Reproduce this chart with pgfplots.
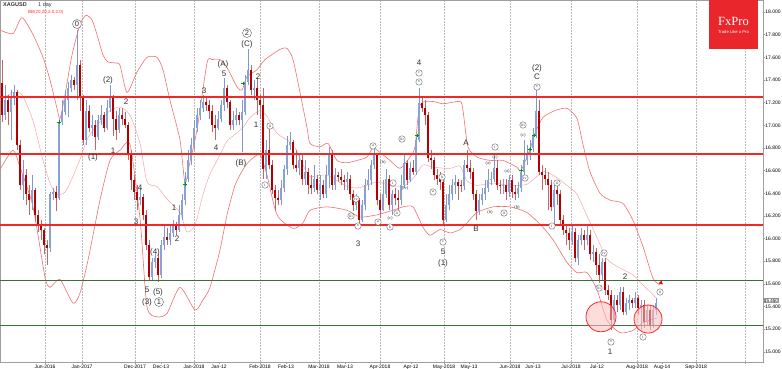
\documentclass[border=0pt]{standalone}
\usepackage{fontspec}
\setmainfont{Liberation Sans}
\newfontfamily\serif{Liberation Serif}
\usepackage{pgfplots}
\pgfplotsset{compat=1.18}
\usepackage{pgfplotstable}
\definecolor{upbody}{HTML}{86A2D6}
\definecolor{wickup}{HTML}{7F99CC}
\definecolor{dnred}{HTML}{B40000}
\definecolor{wickdn}{HTML}{C06868}
\definecolor{band}{HTML}{F07070}
\definecolor{midband}{HTML}{F4A0A0}
\definecolor{hred}{HTML}{F02828}
\definecolor{hgreen}{HTML}{3A6E3A}
\definecolor{fxred}{HTML}{E8262B}
\definecolor{lab}{HTML}{303030}

\pgfplotstableread{
x o h l c
2 17.37 17.58 17.03 17.09
5 17.09 17.36 17.05 17.22
8 17.22 17.27 17.00 17.12
11 17.12 17.31 16.87 17.24
14 17.24 17.36 17.18 17.29
17 17.29 17.31 16.78 16.83
20 16.83 16.87 16.43 16.47
23 16.47 16.69 16.34 16.56
26 16.56 16.61 16.30 16.39
29 16.39 16.47 16.21 16.34
32 16.34 16.56 16.25 16.43
35 16.43 16.45 16.15 16.21
38 16.21 16.25 16.06 16.12
41 16.12 16.16 15.99 16.08
44 16.08 16.09 15.86 15.94
47 15.94 15.99 15.77 15.92
50 15.92 16.41 15.88 16.39
53 16.39 16.45 16.34 16.41
56 16.41 16.46 16.24 16.36
59 16.36 17.06 16.34 17.03
62 17.03 17.22 17.00 17.12
65 17.12 17.31 17.09 17.22
68 17.22 17.38 17.07 17.33
71 17.33 17.44 17.29 17.40
74 17.40 17.43 17.31 17.36
77 17.36 17.84 17.22 17.53
80 17.53 17.58 17.13 17.25
83 17.25 17.27 16.83 16.87
86 16.87 17.22 16.83 17.13
89 17.13 17.18 16.94 16.98
92 16.98 17.09 16.91 17.00
95 17.00 17.05 16.78 16.90
98 16.90 17.09 16.87 17.05
101 17.05 17.18 17.00 17.09
104 17.09 17.12 16.94 16.98
107 16.98 17.22 16.96 17.15
110 17.15 17.36 17.12 17.25
113 17.25 17.27 16.91 17.06
116 17.06 17.13 16.87 16.96
119 16.96 17.15 16.93 17.09
122 17.09 17.15 17.00 17.06
125 17.06 17.12 16.98 17.00
128 17.00 17.03 16.69 16.74
131 16.74 16.78 16.43 16.52
134 16.52 16.56 16.34 16.41
137 16.41 16.47 16.25 16.34
140 16.34 16.45 16.30 16.37
143 16.37 16.39 16.16 16.21
146 16.21 16.25 15.90 15.94
149 15.94 15.99 15.63 15.66
152 15.66 15.83 15.63 15.79
155 15.79 15.86 15.74 15.83
158 15.83 15.86 15.62 15.68
161 15.68 15.99 15.65 15.94
164 15.94 16.12 15.90 16.01
167 16.01 16.09 15.94 15.99
170 15.99 16.12 15.94 16.05
173 16.05 16.16 16.01 16.12
176 16.12 16.15 16.03 16.08
179 16.08 16.30 16.06 16.21
182 16.21 16.39 16.16 16.34
185 16.34 16.59 16.30 16.53
188 16.53 16.78 16.50 16.69
191 16.69 16.89 16.65 16.83
194 16.83 17.05 16.78 16.98
197 16.98 17.15 16.94 17.09
200 17.09 17.22 17.05 17.15
203 17.15 17.27 17.12 17.21
206 17.21 17.25 17.13 17.18
209 17.18 17.22 17.06 17.13
212 17.13 17.18 16.94 17.00
215 17.00 17.09 16.87 16.98
218 16.98 17.13 16.96 17.06
221 17.06 17.22 17.03 17.18
224 17.18 17.42 17.13 17.33
227 17.33 17.36 17.15 17.21
230 17.21 17.22 16.96 17.00
233 17.00 17.13 16.96 17.05
236 17.05 17.15 17.00 17.09
239 17.09 17.12 17.00 17.05
242 17.05 17.22 16.76 17.12
245 17.12 17.44 17.09 17.38
248 17.38 17.67 17.36 17.49
251 17.49 17.53 17.27 17.31
254 17.31 17.40 17.22 17.33
257 17.33 17.42 17.09 17.22
260 17.22 17.27 17.06 17.18
263 17.18 17.33 16.53 16.61
266 16.61 16.87 16.53 16.78
269 16.78 16.98 16.61 16.65
272 16.65 16.69 16.39 16.43
275 16.43 16.47 16.25 16.36
278 16.36 16.43 16.30 16.34
281 16.34 16.52 16.30 16.45
284 16.45 16.65 16.41 16.61
287 16.61 16.91 16.56 16.83
290 16.83 16.94 16.78 16.85
293 16.85 16.87 16.61 16.65
296 16.65 16.78 16.59 16.62
299 16.62 16.74 16.56 16.69
302 16.69 16.74 16.47 16.53
305 16.53 16.69 16.47 16.59
308 16.59 16.62 16.39 16.47
311 16.47 16.56 16.39 16.45
314 16.45 16.65 16.41 16.53
317 16.53 16.56 16.39 16.43
320 16.43 16.56 16.34 16.47
323 16.47 16.52 16.36 16.39
326 16.39 16.65 16.36 16.56
329 16.56 16.81 16.45 16.74
332 16.74 16.78 16.43 16.47
335 16.47 16.62 16.43 16.56
338 16.56 16.59 16.50 16.54
341 16.54 16.61 16.47 16.52
344 16.52 16.56 16.43 16.50
347 16.50 16.59 16.43 16.53
350 16.53 16.56 16.34 16.39
353 16.39 16.43 16.24 16.30
356 16.30 16.39 16.25 16.34
359 16.34 16.36 16.14 16.16
362 16.16 16.34 16.15 16.30
365 16.30 16.53 16.25 16.47
368 16.47 16.61 16.43 16.52
371 16.52 16.69 16.47 16.65
374 16.65 16.81 16.61 16.74
377 16.74 16.76 16.30 16.34
380 16.34 16.39 16.18 16.25
383 16.25 16.52 16.24 16.39
386 16.39 16.61 16.36 16.53
389 16.53 16.56 16.25 16.30
392 16.30 16.43 16.21 16.39
395 16.39 16.45 16.30 16.36
398 16.36 16.43 16.25 16.34
401 16.34 16.56 16.30 16.47
404 16.47 16.74 16.45 16.67
407 16.67 16.69 16.47 16.52
410 16.52 16.68 16.50 16.62
413 16.62 16.69 16.56 16.59
416 16.59 16.91 16.56 16.87
419 16.87 17.33 16.85 17.20
422 17.20 17.24 17.12 17.15
425 17.15 17.22 17.00 17.09
428 17.09 17.12 16.68 16.71
431 16.71 16.78 16.61 16.69
434 16.69 16.72 16.52 16.56
437 16.56 16.61 16.47 16.53
440 16.53 16.59 16.43 16.50
443 16.50 16.52 16.12 16.16
446 16.16 16.39 16.15 16.30
449 16.30 16.47 16.25 16.39
452 16.39 16.53 16.34 16.47
455 16.47 16.56 16.39 16.50
458 16.50 16.53 16.34 16.46
461 16.47 16.52 16.41 16.46
464 16.46 16.69 16.43 16.65
467 16.65 16.78 16.59 16.62
470 16.62 16.69 16.53 16.59
473 16.59 16.62 16.34 16.39
476 16.39 16.43 16.16 16.24
479 16.24 16.39 16.21 16.34
482 16.34 16.45 16.30 16.39
485 16.39 16.52 16.34 16.45
488 16.45 16.61 16.41 16.52
491 16.52 16.59 16.47 16.53
494 16.53 16.74 16.50 16.62
497 16.62 16.69 16.43 16.47
500 16.47 16.52 16.39 16.46
503 16.46 16.53 16.39 16.47
506 16.47 16.53 16.34 16.41
509 16.41 16.56 16.37 16.52
512 16.52 16.56 16.36 16.41
515 16.41 16.47 16.34 16.39
518 16.39 16.50 16.36 16.45
521 16.45 16.65 16.41 16.59
524 16.59 16.87 16.53 16.69
527 16.69 16.83 16.65 16.74
530 16.74 16.87 16.69 16.80
533 16.80 16.98 16.76 16.91
536 16.91 17.31 16.89 17.13
539 17.13 17.22 16.56 16.59
542 16.59 16.65 16.43 16.56
545 16.56 16.62 16.47 16.53
548 16.53 16.59 16.25 16.47
551 16.47 16.52 16.24 16.28
554 16.28 16.47 16.12 16.43
557 16.43 16.47 16.30 16.39
560 16.39 16.43 16.12 16.16
563 16.16 16.21 16.03 16.08
566 16.08 16.12 15.94 16.05
569 16.05 16.09 15.90 15.99
572 15.99 16.12 15.94 16.06
575 16.06 16.09 15.79 15.83
578 15.83 16.03 15.77 15.99
581 15.99 16.09 15.94 16.03
584 16.03 16.08 15.90 15.99
587 15.99 16.12 15.94 16.03
590 16.03 16.08 15.81 15.86
593 15.86 15.94 15.79 15.88
596 15.88 15.92 15.68 15.77
599 15.77 15.86 15.61 15.68
602 15.68 15.83 15.63 15.79
605 15.79 15.83 15.50 15.55
608 15.55 15.59 15.46 15.50
611 15.50 15.55 15.19 15.28
614 15.28 15.50 15.26 15.46
617 15.46 15.50 15.35 15.41
620 15.41 15.57 15.37 15.53
623 15.53 15.57 15.33 15.35
626 15.35 15.48 15.33 15.43
629 15.43 15.50 15.37 15.46
632 15.46 15.48 15.39 15.43
635 15.43 15.53 15.39 15.48
638 15.48 15.50 15.33 15.39
641 15.39 15.46 15.19 15.41
644 15.41 15.46 15.21 15.26
647 15.26 15.41 15.24 15.37
650 15.37 15.41 15.19 15.24
653 15.24 15.41 15.21 15.37
656 15.37 15.48 15.33 15.43
}\candles

\pgfplotsset{
  candle/.style={only marks, mark=*, mark size=0pt, mark options={draw opacity=0, fill opacity=0}, forget plot, restrict x to domain=-10:800,
    error bars/y dir=plus, error bars/y explicit, error bars/error mark=none},
  /pgfplots/table/upx/.style={x expr={\thisrow{c}>\thisrow{o} ? \thisrow{x} : -100}},
  /pgfplots/table/dnx/.style={x expr={\thisrow{c}<\thisrow{o} ? \thisrow{x} : -100}},
}

\begin{document}
\begin{tikzpicture}[x=1pt,y=1pt]
\useasboundingbox (0,0) rectangle (782,369);
\begin{axis}[
  at={(0pt,7pt)}, anchor=south west,
  width=763pt, height=362pt, scale only axis,
  xmin=0, xmax=763, ymin=14.911, ymax=18.106,
  axis line style={gray!75, line width=0.5pt},
  ytick={15,15.2,15.4,15.6,15.8,16,16.2,16.4,16.6,16.8,17,17.2,17.4,17.6,17.8,18},
  ytick pos=right, yticklabel pos=right,
  yticklabel style={/pgf/number format/.cd, fixed, fixed zerofill, precision=3, assume math mode=true, /tikz/.cd, font=\fontsize{5}{6}\selectfont, inner sep=0.6pt, xshift=-0.5pt},
  xtick={45,82,135,194,260,319,380,444,510,571,637,696,745},
  xticklabels={Jun-2016,Jan-2017,Dec-2017,Jan-2018,Feb-2018,Mar-2018,Apr-2018,May-2018,Jun-2018,Jul-2018,Aug-2018,Sep-2018,{}},
  extra x ticks={161,219,286,345,411,469,533,597,662},
  extra x tick labels={Dec-13,Jan-12,Feb-13,Mar-13,Apr-12,May-13,Jun-13,Jul-12,Aug-14},
  extra x tick style={grid=none},
  xtick pos=bottom,
  xticklabel style={font=\fontsize{5}{6}\selectfont, inner sep=0.6pt},
  tick align=outside, major tick length=2pt,
  tick style={gray!75, line width=0.4pt},
  xmajorgrids=true,
  major grid style={gray!55, dash pattern=on 1.5pt off 1.5pt, line width=0.4pt},
]
% Bollinger bands
\addplot[band, line width=0.6pt, smooth, tension=0.4] coordinates {
(0,17.84) (13,17.81) (22,17.95) (33,17.80) (43,17.60) (50,17.40) (57,17.15) (60,17.06) (65,17.27) (72,17.62) (80,17.89) (86,17.97) (92,17.93) (97,17.80) (103,17.62) (108,17.56) (115,17.55) (120,17.53) (127,17.29) (137,17.47) (147,17.60) (157,17.60) (163,17.49) (170,17.22) (180,16.87) (185,16.49) (190,16.68) (197,16.96) (207,17.55) (212,17.58) (220,17.58) (227,17.51) (237,17.34) (242,17.31) (247,17.43) (257,17.49) (265,17.58) (280,17.67) (287,17.68) (293,17.58) (300,17.29) (307,16.98) (310,16.84) (320,16.81) (328,16.84) (337,16.69) (347,16.67) (357,16.69) (367,16.72) (373,16.80) (380,16.76) (390,16.69) (400,16.62) (410,16.72) (415,16.81) (420,17.18) (433,17.21) (443,17.19) (460,17.21) (463,17.13) (468,16.81) (477,16.72) (490,16.69) (503,16.69) (517,16.63) (521,16.60) (530,16.79) (535,16.93) (543,17.07) (555,17.13) (567,17.15) (577,17.06) (583,16.83) (590,16.59) (600,16.40) (610,16.34) (623,16.31) (633,16.16) (643,15.93) (653,15.65) (660,15.59)};
\addplot[band, line width=0.6pt, smooth, tension=0.4] coordinates {
(0,16.61) (13,16.78) (20,16.63) (33,16.28) (45,15.66) (50,15.57) (60,15.64) (73,15.43) (80,15.52) (88,15.81) (100,16.34) (110,16.69) (120,16.78) (130,16.83) (140,16.18) (147,15.40) (157,15.31) (167,15.34) (180,15.57) (195,15.37) (203,15.46) (210,15.57) (220,15.90) (227,16.21) (235,16.47) (243,16.61) (250,16.69) (260,16.74) (267,16.56) (277,16.21) (293,16.09) (303,16.14) (310,16.25) (327,16.28) (347,16.25) (360,16.19) (377,16.21) (393,16.25) (403,16.28) (413,16.28) (423,16.10) (430,16.03) (440,16.08) (450,16.05) (460,16.08) (467,16.14) (477,16.23) (493,16.28) (510,16.28) (527,16.23) (543,16.10) (553,15.99) (567,15.79) (577,15.70) (587,15.70) (597,15.55) (607,15.28) (620,15.17) (633,15.19) (643,15.26) (657,15.30)};
\addplot[midband, line width=0.45pt, smooth, tension=0.4] coordinates {
(0,17.22) (13,17.29) (22,17.27) (33,17.04) (43,16.69) (50,16.49) (57,16.39) (65,16.41) (72,16.53) (80,16.70) (88,16.89) (100,17.03) (110,17.13) (120,17.16) (130,17.09) (140,16.84) (147,16.50) (157,16.46) (167,16.35) (180,16.23) (187,16.06) (195,16.12) (203,16.39) (210,16.57) (220,16.74) (227,16.86) (235,16.92) (243,16.98) (250,17.07) (260,17.13) (267,17.08) (277,16.93) (293,16.83) (303,16.65) (310,16.55) (327,16.56) (347,16.46) (360,16.45) (377,16.50) (393,16.46) (403,16.46) (413,16.53) (423,16.65) (433,16.63) (450,16.62) (460,16.64) (467,16.51) (477,16.47) (493,16.49) (510,16.47) (527,16.48) (543,16.59) (553,16.56) (567,16.47) (577,16.39) (587,16.20) (597,16.01) (607,15.82) (620,15.74) (633,15.68) (643,15.59) (657,15.47)};
% candles: wicks
\addplot[candle, error bars/error bar style={draw=wickup, line width=0.55pt}] table[upx, y=l, y error expr={\thisrow{h}-\thisrow{l}}] {\candles};
\addplot[candle, error bars/error bar style={draw=wickdn, line width=0.55pt}] table[dnx, y=l, y error expr={\thisrow{h}-\thisrow{l}}] {\candles};
% candles: bodies
\addplot[candle, error bars/error bar style={draw=upbody, line width=2.6pt}] table[upx, y=o, y error expr={\thisrow{c}-\thisrow{o}}] {\candles};
\addplot[candle, error bars/error bar style={draw=dnred, line width=2.6pt}] table[dnx, y=c, y error expr={\thisrow{o}-\thisrow{c}}] {\candles};
% horizontal levels
\addplot[draw=hred, line width=1.3pt, forget plot] table[x=x, y=y] {
x y
0 17.25
763 17.25
};
\addplot[draw=hred, line width=1.3pt, forget plot] table[x=x, y=y] {
x y
0 16.748
763 16.748
};
\addplot[draw=hred, line width=1.3pt, forget plot] table[x=x, y=y] {
x y
0 16.12
763 16.12
};
\addplot[draw=hgreen, line width=0.9pt, forget plot] coordinates {(0,15.63) (763,15.63)};
\addplot[draw=hgreen, line width=0.9pt, forget plot] coordinates {(0,15.23) (763,15.23)};
% signal marks
\addplot[only marks, mark=+, mark size=1.8pt, green!60!black, line width=0.8pt] coordinates {(59,17.03) (185,16.48) (243,17.37) (417,16.91) (521,16.60) (530,16.79) (534,16.91)};
\addplot[only marks, mark=triangle*, mark size=2pt, red, mark options={rotate=-15}] coordinates {(661,15.61)};
% highlight circles
\draw[red!85, line width=0.8pt, fill=red!25, fill opacity=0.55] (axis cs:601,15.31) circle[radius=15pt];
\draw[red!85, line width=0.8pt, fill=red!25, fill opacity=0.55] (axis cs:648,15.29) circle[radius=14pt];
\end{axis}

\begin{scope}[shift={(0pt,369pt)}, x=1pt, y=-1pt,
  big/.style={font=\fontsize{8}{8}\selectfont, text=lab, inner sep=0pt},
  bigc/.style={font=\fontsize{7.5}{7.5}\selectfont, text=lab, circle, draw=gray!70!black, fill=white, line width=0.4pt, inner sep=0pt, minimum size=9pt},
  sm/.style={font=\serif\fontsize{4}{4}\selectfont, text=lab, circle, draw=gray!70!black, fill=white, line width=0.35pt, inner sep=0.2pt, minimum size=6.5pt},
  sp/.style={font=\serif\fontsize{4.5}{4.5}\selectfont, text=lab, inner sep=0pt}]
% title
\node[anchor=west, font=\fontsize{5.5}{6}\selectfont\bfseries, text=black!80, inner sep=0pt] at (3,5) {XAGUSD};
\node[anchor=west, font=\fontsize{5.5}{6}\selectfont, text=black!80, inner sep=0pt] at (38,5) {1 day};
\node[anchor=west, font=\fontsize{4.5}{5}\selectfont, text=red!80, inner sep=0pt] at (28,12) {BB(20,20,2.0,2.0)};
% logo
\fill[fxred] (709,0) rectangle (758,49);
\node[font=\serif\fontsize{12.5}{12.5}\selectfont, text=white, inner sep=0pt] at (733.5,21) {FxPro};
\node[font=\fontsize{4.2}{4.5}\selectfont, text=white, inner sep=0pt] at (733.5,32) {Trade Like a Pro};
% price tag
\node[anchor=west, draw=gray!80, fill=white, font=\fontsize{4.5}{5}\selectfont, inner sep=0.4pt, line width=0.3pt] at (763.5,300.5) {15.450};
% wave labels
\node[big] at (108,80) {(2)};
\node[big] at (126,102) {2};
\node[big] at (93,157) {(1)};
\node[big] at (113,151) {1};
\node[big] at (136,222) {3};
\node[big] at (140,188) {4};
\node[big] at (147,290) {5};
\node[big] at (147,302) {(3)};
\node[big] at (155,252) {(4)};
\node[big] at (158,292) {(5)};
\node[big] at (174,208) {1};
\node[big] at (177,239) {2};
\node[big] at (204,91) {3};
\node[big] at (216,148) {4};
\node[big] at (224,74) {5};
\node[big] at (223,64) {(A)};
\node[big] at (241,163) {(B)};
\node[big] at (247,44) {(C)};
\node[big] at (258,77) {2};
\node[big] at (256,125) {1};
\node[big] at (358,244) {3};
\node[big] at (419,63) {4};
\node[big] at (443,252) {5};
\node[big] at (443,263) {(1)};
\node[big] at (466,143) {A};
\node[big] at (476,229) {B};
\node[big] at (537,68) {(2)};
\node[big] at (537,77) {C};
\node[big] at (610,352) {1};
\node[big] at (625,277) {2};
\node[bigc] at (77,24) {0};
\node[bigc] at (247,33) {2};
\node[bigc] at (159,302) {1};
% small circled labels
\node[sm] at (265,185) {i};
\node[sm] at (270,126) {ii};
\node[sm] at (351,216) {iii};
\node[sm] at (356,199) {iv};
\node[sm] at (358,226) {v};
\node[sm] at (373,146) {a};
\node[sm] at (378,222) {a};
\node[sm] at (390,227) {b};
\node[sm] at (393,183) {i};
\node[sm] at (397,213) {ii};
\node[sm] at (402,139) {iii};
\node[sm] at (419,73) {c};
\node[sm] at (419,82) {v};
\node[sm] at (433,192) {a};
\node[sm] at (442,177) {b};
\node[sm] at (443,242) {c};
\node[sm] at (495,147) {i};
\node[sm] at (504,213) {ii};
\node[sm] at (523,125) {iii};
\node[sm] at (525,178) {iv};
\node[sm] at (537,87) {v};
\node[sm] at (552,226) {i};
\node[sm] at (557,183) {ii};
\node[sm] at (599,288) {iii};
\node[sm] at (604,253) {iv};
\node[sm] at (611,342) {v};
\node[sm] at (643,337) {i};
\node[sm] at (660,292) {ii};
% parenthesised labels
\node[sp] at (383,162) {(b)};
\node[sp] at (390,218) {(c)};
\node[sp] at (405,188) {(iv)};
\node[sp] at (523,135) {(c)};
\node[sp] at (488,163) {(a)};
\node[sp] at (490,212) {(b)};
\node[sp] at (495,157) {(c)};
\node[sp] at (507,171) {(a)};
\node[sp] at (517,207) {(b)};
\end{scope}
\end{tikzpicture}
\end{document}
